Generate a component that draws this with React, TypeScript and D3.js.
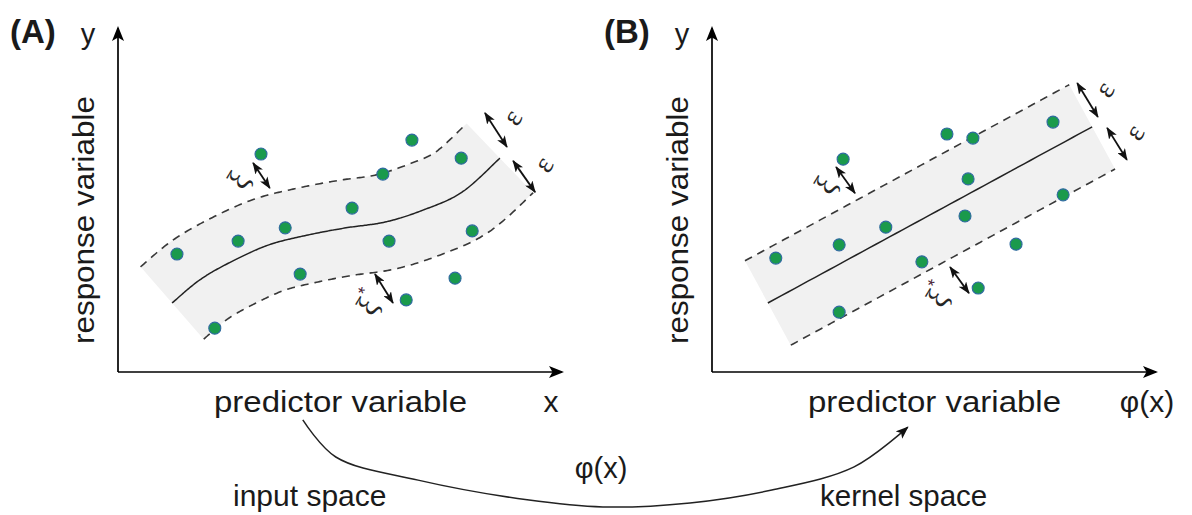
import React from 'react';
import * as d3 from 'd3';

const W = 1192;
const H = 515;

// ---------- Panel A (input space): observations ----------
const pointsAX = [1.34, 2.73, 3.8, 3.25, 4.14, 2.2, 5.32, 6.02, 6.16, 6.68, 7.8, 8.05, 7.66, 6.55];
const pointsAY = [3.47, 3.85, 4.24, 6.41, 2.88, 1.29, 4.82, 5.82, 3.85, 6.82, 6.29, 4.15, 2.76, 2.12];
// non-linear regression function (S-shaped)
const fitAX = [1.23, 1.86, 2.57, 3.43, 4.32, 5.18, 6.07, 6.93, 7.82, 8.68];
const fitAY = [2.03, 2.71, 3.24, 3.74, 4.03, 4.24, 4.41, 4.76, 5.29, 6.29];

// ---------- Panel B (kernel space): observations ----------
const pointsBX = [1.45, 2.89, 3.95, 2.98, 4.77, 2.89, 5.34, 5.93, 5.82, 5.75, 6.91, 7.75, 7.98, 6.05];
const pointsBY = [3.35, 3.74, 4.26, 6.26, 3.24, 1.76, 7.0, 6.88, 5.68, 4.59, 3.76, 7.35, 5.21, 2.47];
// linear regression function
const fitBX = [1.27, 8.64];
const fitBY = [2.03, 7.21];

// ---------- annotation arrows (from, to) in data units ----------
const arrowsAX = [[3.07, 3.45], [5.84, 6.25], [8.34, 8.84], [8.98, 9.48]];
const arrowsAY = [[6.15, 5.41], [2.88, 2.03], [7.62, 6.62], [6.21, 5.29]];
const labelsAX = [2.73, 5.7, 8.95, 9.66];
const labelsAY = [5.65, 2.03, 7.5, 6.12];

const arrowsBX = [[2.82, 3.25], [5.41, 5.84], [8.3, 8.77], [8.98, 9.43]];
const arrowsBY = [[6.03, 5.26], [3.09, 2.32], [8.5, 7.5], [7.18, 6.24]];
const labelsBX = [2.57, 5.15, 8.91, 9.59];
const labelsBY = [5.5, 2.26, 8.32, 7.06];

const labelText = ['ξ', 'ξ*', 'ε', 'ε'];

// mapping arrow φ(x): input space -> kernel space (panel A units)
const mapX = [4.2, 4.95, 6.82, 9.3, 11.02, 13.0, 14.86, 16.73, 17.95];
const mapY = [-1.41, -2.5, -3.18, -3.76, -3.97, -3.85, -3.47, -2.79, -1.62];

const BAND_HALF = 48; // ε tube half-width (px)
const FONT = "'Liberation Sans', Arial, Helvetica, sans-serif";
const GREEK = "'Liberation Serif', 'DejaVu Serif', serif";
const INK = '#1a1a1a';

type P = [number, number];

function catmull(pts: P[], n: number): P[] {
  if (pts.length === 2) {
    const out: P[] = [];
    for (let s = 0; s <= n; s++) {
      const t = s / n;
      out.push([pts[0][0] + (pts[1][0] - pts[0][0]) * t, pts[0][1] + (pts[1][1] - pts[0][1]) * t]);
    }
    return out;
  }
  const out: P[] = [];
  const L = pts.length;
  for (let i = 0; i < L - 1; i++) {
    const p0 = pts[Math.max(i - 1, 0)];
    const p1 = pts[i];
    const p2 = pts[i + 1];
    const p3 = pts[Math.min(i + 2, L - 1)];
    for (let s = 0; s < n; s++) {
      const t = s / n;
      const t2 = t * t;
      const t3 = t2 * t;
      const f = (a: number, b: number, c: number, d: number) =>
        0.5 * (2 * b + (-a + c) * t + (2 * a - 5 * b + 4 * c - d) * t2 + (-a + 3 * b - 3 * c + d) * t3);
      out.push([f(p0[0], p1[0], p2[0], p3[0]), f(p0[1], p1[1], p2[1], p3[1])]);
    }
  }
  out.push(pts[L - 1]);
  return out;
}

function tube(center: P[], h: number, span: number) {
  const upper: P[] = [];
  const lower: P[] = [];
  for (let i = 0; i < center.length; i++) {
    const a = center[Math.max(i - span, 0)];
    const b = center[Math.min(i + span, center.length - 1)];
    let tx = b[0] - a[0];
    let ty = b[1] - a[1];
    const len = Math.hypot(tx, ty) || 1;
    tx /= len;
    ty /= len;
    const nx = ty;
    const ny = -tx;
    upper.push([center[i][0] + nx * h, center[i][1] + ny * h]);
    lower.push([center[i][0] - nx * h, center[i][1] - ny * h]);
  }
  return { upper, lower };
}

const line = d3.line<P>().curve(d3.curveBasis);
const straight = d3.line<P>();

function Panel(props: {
  tag: string;
  xs: d3.ScaleLinear<number, number>;
  ys: d3.ScaleLinear<number, number>;
  px: number[];
  py: number[];
  fx: number[];
  fy: number[];
  ax: number[][];
  ay: number[][];
  lx: number[];
  ly: number[];
  xLabel: string;
  xLabelX: number;
}) {
  const { xs, ys } = props;
  const fitPx: P[] = props.fx.map((x, i) => [xs(x), ys(props.fy[i])]);
  const center = catmull(fitPx, 24);
  const { upper, lower } = tube(center, BAND_HALF, 14);
  const poly = [...upper, ...lower.slice().reverse()];
  const [x0, x1] = xs.range();
  const [y0, y1] = ys.range();
  return (
    <g>
      <path d={straight(poly) + 'Z'} fill="#f1f1f1" stroke="none" />
      <path d={line(upper) || ''} fill="none" stroke="#383838" strokeWidth={1.6} strokeDasharray="8,6" />
      <path d={line(lower) || ''} fill="none" stroke="#383838" strokeWidth={1.6} strokeDasharray="8,6" />
      <path d={line(center) || ''} fill="none" stroke="#222" strokeWidth={1.5} />
      {props.px.map((x, i) => (
        <circle key={i} cx={xs(x)} cy={ys(props.py[i])} r={6} fill="#1a9a4c" stroke="#2f6aa0" strokeWidth={1.1} />
      ))}
      {props.ax.map((xx, i) => (
        <line
          key={'a' + i}
          x1={xs(xx[0])}
          y1={ys(props.ay[i][0])}
          x2={xs(xx[1])}
          y2={ys(props.ay[i][1])}
          stroke="#111"
          strokeWidth={1.8}
          markerStart="url(#smallHead)"
          markerEnd="url(#smallHead)"
        />
      ))}
      {props.lx.map((x, i) => {
        const t = labelText[i];
        const cx = xs(x);
        const cy = ys(props.ly[i]);
        return (
          <text
            key={'l' + i}
            transform={`translate(${cx},${cy}) rotate(-58)`}
            textAnchor="middle"
            dominantBaseline="central"
            fontFamily={GREEK}
            fontSize={t[0] === 'ξ' ? 31 : 29}
            fill="#262626"
          >
            {t[0]}
            {t.length > 1 ? (
              <tspan dy={-10} fontSize={18} fill="#4a2436" fontFamily={FONT}>
                *
              </tspan>
            ) : null}
          </text>
        );
      })}
      {/* axes */}
      <line x1={x0} y1={y0} x2={x0} y2={y1 - 4} stroke="#000" strokeWidth={1.7} markerEnd="url(#axisHead)" />
      <line x1={x0} y1={y0} x2={x1 + 4} y2={y0} stroke="#000" strokeWidth={1.7} markerEnd="url(#axisHead)" />
      <text x={x0 - 108} y={43} fontFamily={FONT} fontSize={33} fontWeight="bold" fill={INK}>
        {props.tag}
      </text>
      <text x={x0 - 30} y={44} fontFamily={FONT} fontSize={29} textAnchor="middle" fill={INK}>
        y
      </text>
      <text
        transform={`translate(${x0 - 24},${220}) rotate(-90)`}
        textAnchor="middle"
        fontFamily={FONT}
        fontSize={30}
        fill={INK}
        textLength={248}
        lengthAdjust="spacingAndGlyphs"
      >
        response variable
      </text>
      <text
        x={x0 + 96}
        y={412}
        fontFamily={FONT}
        fontSize={30}
        fill={INK}
        textLength={253}
        lengthAdjust="spacingAndGlyphs"
      >
        predictor variable
      </text>
      <text x={props.xLabelX} y={412} fontFamily={FONT} fontSize={30} textAnchor="middle" fill={INK}>
        {props.xLabel}
      </text>
    </g>
  );
}

export default function App() {
  const xA = d3.scaleLinear().domain([0, 10]).range([118, 558]);
  const yA = d3.scaleLinear().domain([0, 10]).range([372, 32]);
  const xB = d3.scaleLinear().domain([0, 10]).range([712, 1152]);
  const yB = d3.scaleLinear().domain([0, 10]).range([372, 32]);

  const mapPts: P[] = mapX.map((x, i) => [xA(x), yA(mapY[i])]);
  const mapPath = d3.line<P>().curve(d3.curveCatmullRom.alpha(0.5))(mapPts) || '';

  return (
    <svg
      width={W}
      height={H}
      viewBox={`0 0 ${W} ${H}`}
      style={{ position: 'absolute', left: 0, top: 0, background: '#fff' }}
    >
      <defs>
        <marker
          id="axisHead"
          viewBox="0 0 15 12"
          refX={13}
          refY={6}
          markerWidth={15}
          markerHeight={12}
          markerUnits="userSpaceOnUse"
          orient="auto"
        >
          <path d="M0,0 L15,6 L0,12 L3.5,6 Z" fill="#000" />
        </marker>
        <marker
          id="smallHead"
          viewBox="0 0 12 9"
          refX={11}
          refY={4.5}
          markerWidth={12}
          markerHeight={9}
          markerUnits="userSpaceOnUse"
          orient="auto-start-reverse"
        >
          <path d="M0,0 L12,4.5 L0,9 L3,4.5 Z" fill="#111" />
        </marker>
        <marker
          id="mapHead"
          viewBox="0 0 13 10"
          refX={12}
          refY={5}
          markerWidth={13}
          markerHeight={10}
          markerUnits="userSpaceOnUse"
          orient="auto"
        >
          <path d="M0,0 L13,5 L0,10 L3,5 Z" fill="#111" />
        </marker>
      </defs>
      <rect width={W} height={H} fill="#fff" />
      <Panel
        tag="(A)"
        xs={xA}
        ys={yA}
        px={pointsAX}
        py={pointsAY}
        fx={fitAX}
        fy={fitAY}
        ax={arrowsAX}
        ay={arrowsAY}
        lx={labelsAX}
        ly={labelsAY}
        xLabel="x"
        xLabelX={551}
      />
      <Panel
        tag="(B)"
        xs={xB}
        ys={yB}
        px={pointsBX}
        py={pointsBY}
        fx={fitBX}
        fy={fitBY}
        ax={arrowsBX}
        ay={arrowsBY}
        lx={labelsBX}
        ly={labelsBY}
        xLabel="φ(x)"
        xLabelX={1147}
      />
      <path d={mapPath} fill="none" stroke="#222" strokeWidth={1.5} markerEnd="url(#mapHead)" />
      <text x={601} y={478} textAnchor="middle" fontFamily={FONT} fontSize={29} fill={INK}>
        φ(x)
      </text>
      <text x={233} y={506} fontFamily={FONT} fontSize={30} fill={INK}>
        input space
      </text>
      <text x={820} y={506} fontFamily={FONT} fontSize={29.5} fill={INK}>
        kernel space
      </text>
    </svg>
  );
}
